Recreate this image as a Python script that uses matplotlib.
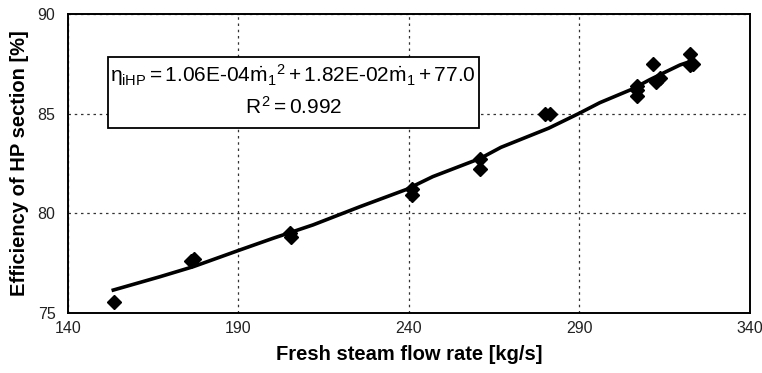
import numpy as np
import matplotlib.pyplot as plt
from matplotlib.patches import Rectangle

plt.rcParams['font.family'] = ['Liberation Sans', 'DejaVu Sans']
plt.rcParams['mathtext.fontset'] = 'custom'
plt.rcParams['mathtext.rm'] = 'Liberation Sans'
plt.rcParams['mathtext.it'] = 'Liberation Sans'
plt.rcParams['mathtext.bf'] = 'Liberation Sans:bold'

# measured points
flow = [153.5, 176.0, 177.0, 205.0, 205.5, 241.0, 241.0, 261.0, 261.0,
        280.0, 281.5, 307.0, 307.0, 307.0, 311.6, 312.6, 313.6, 322.4, 322.4, 323.4]
eff = [75.55, 77.6, 77.7, 79.0, 78.8, 81.2, 80.9, 82.7, 82.2,
       85.0, 85.0, 86.4, 86.2, 85.9, 87.5, 86.6, 86.8, 88.0, 87.45, 87.5]

# trend line
line_x = [153.3, 167, 176.7, 190.4, 200.2, 211.9, 225.6, 239.3, 247, 261, 267,
          281, 290, 296, 305.5, 310.5, 315.5, 319.5, 322.4]
line_y = [76.15, 76.82, 77.32, 78.16, 78.75, 79.42, 80.33, 81.2, 81.84, 82.76, 83.31,
          84.27, 85.02, 85.55, 86.23, 86.69, 87.11, 87.44, 87.61]

xticks = [140, 190, 240, 290, 340]
yticks = [75, 80, 85, 90]

fig = plt.figure(figsize=(7.62, 3.73), dpi=100)
ax = fig.add_axes([0.0892, 0.1609, 0.8948, 0.8016])

ax.plot(line_x, line_y, color='black', lw=2.6, zorder=3)
ax.plot(flow, eff, 'D', color='black', ms=7, zorder=4)

ax.set_xlim(140, 340)
ax.set_ylim(75, 90)
ax.set_xticks(xticks)
ax.set_yticks(yticks)
ax.tick_params(length=0, labelsize=11.5, colors='#222222')
ax.tick_params(axis='x', pad=6)
ax.tick_params(axis='y', pad=9)
ax.grid(True, color='#333333', ls=(0, (2, 3)), lw=0.9)
for s in ax.spines.values():
    s.set_linewidth(1.4)

ax.set_xlabel('Fresh steam flow rate [kg/s]', fontsize=14.5, fontweight='bold', labelpad=6)
ax.set_ylabel('Efficiency of HP section [%]', fontsize=14.5, fontweight='bold', labelpad=6)

# equation box
ax.add_patch(Rectangle((0.0587, 0.6187), 0.5439, 0.2373, transform=ax.transAxes,
                       fc='white', ec='black', lw=1.3, zorder=5))
eq = (r'$\eta_{\mathrm{iHP}} = 1.06\mathrm{E\text{-}04}\dot{m}_1{}^2 + '
      r'1.82\mathrm{E\text{-}02}\dot{m}_1 + 77.0$')
ax.text(0.3306, 0.796, eq, transform=ax.transAxes, ha='center', va='center',
        fontsize=15, zorder=6)
ax.text(0.3306, 0.689, r'$R^2 = 0.992$', transform=ax.transAxes, ha='center',
        va='center', fontsize=15, zorder=6)

fig.savefig('out.png', dpi=100)
